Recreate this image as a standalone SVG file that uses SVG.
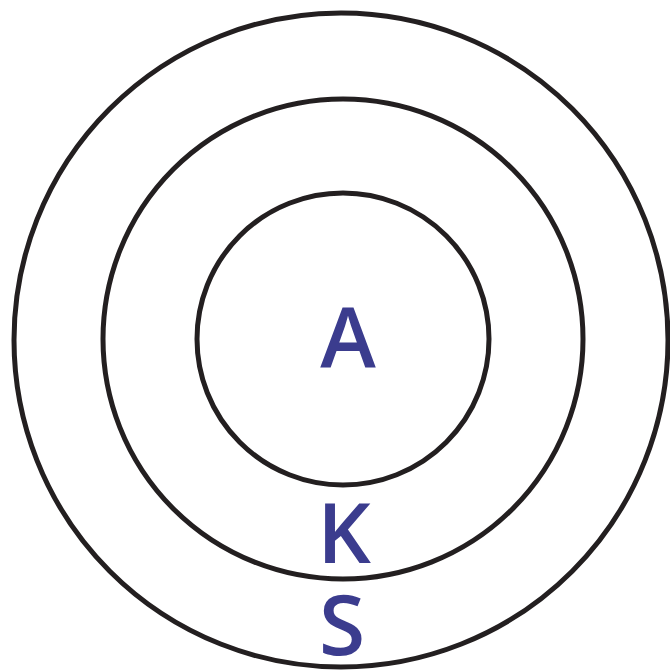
<svg xmlns="http://www.w3.org/2000/svg" width="670" height="672" viewBox="0 0 670 672">
<style>
.ring{fill:none;stroke:#231f20;stroke-width:5}
.lbl{font-family:"Open Sans","Liberation Sans",sans-serif;font-weight:600;font-size:84px;fill:#3b3c8e;text-anchor:middle}
</style>
<rect width="670" height="672" fill="#ffffff"/>
<g id="outer"><circle class="ring" cx="341" cy="340" r="327"/><text class="lbl" x="342" y="655">S</text></g>
<g id="middle"><circle class="ring" cx="343" cy="339" r="240"/><text class="lbl" x="344" y="563">K</text></g>
<g id="inner"><circle class="ring" cx="343" cy="339" r="146"/><text class="lbl" x="348" y="368">A</text></g>
<g id="connectors"/>
</svg>
